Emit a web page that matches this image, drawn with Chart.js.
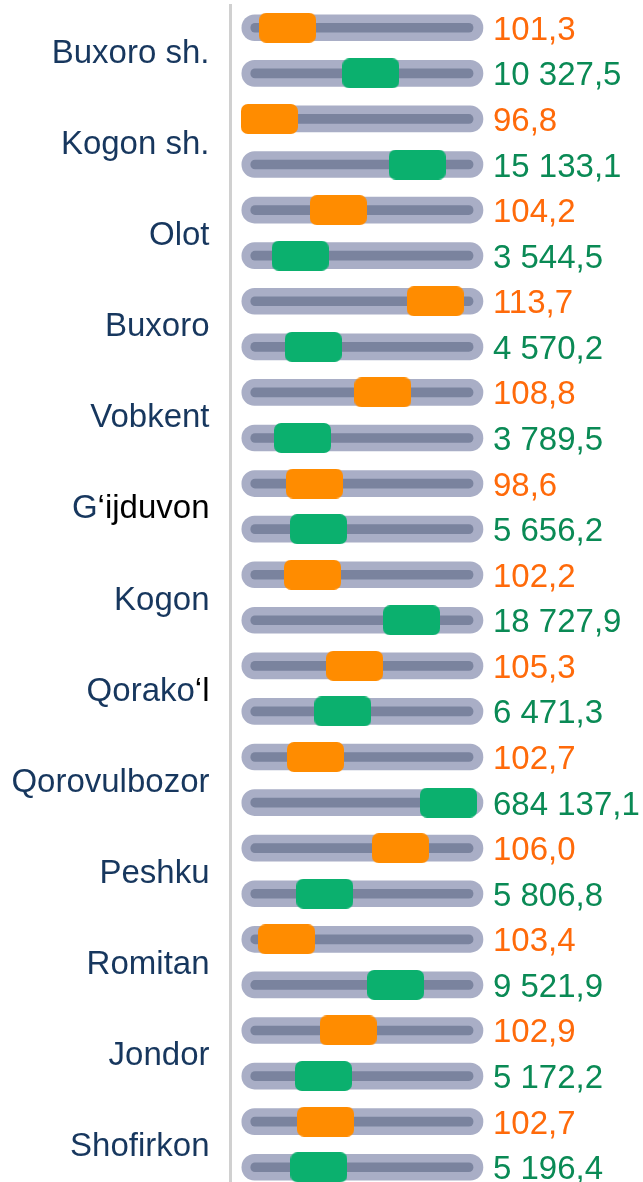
<!DOCTYPE html>
<html>
<head>
<meta charset="utf-8">
<script src="https://cdn.jsdelivr.net/npm/chart.js@4"></script>
<style>
  html, body { margin: 0; padding: 0; background: #fff; overflow: hidden; }
  #wrap { width: 643px; height: 1195px; position: relative; }
</style>
</head>
<body>
<div id="wrap"><canvas id="myChart"></canvas></div>
<script>
// districts, top to bottom
var categories = ['Buxoro sh.', 'Kogon sh.', 'Olot', 'Buxoro', 'Vobkent', 'G‘ijduvon', 'Kogon',
    'Qorako‘l', 'Qorovulbozor', 'Peshku', 'Romitan', 'Jondor', 'Shofirkon'];

// growth rate, % (orange rows)
var growthLabels = ['101,3', '96,8', '104,2', '113,7', '108,8', '98,6', '102,2',
    '105,3', '102,7', '106,0', '103,4', '102,9', '102,7'];
// volume (green rows)
var volumeLabels = ['10 327,5', '15 133,1', '3 544,5', '4 570,2', '3 789,5', '5 656,2', '18 727,9',
    '6 471,3', '684 137,1', '5 806,8', '9 521,9', '5 172,2', '5 196,4'];

// slider position of each marker along its track (0 = left end, 100 = right end)
var growthPos = [19.0, 11.4, 40.0, 80.2, 58.5, 30.1, 29.3, 46.8, 30.5, 65.7, 18.6, 44.1, 34.7];
var volumePos = [53.5, 72.7, 24.2, 29.6, 25.2, 31.8, 70.4, 41.9, 85.7, 34.4, 63.8, 33.8, 32.0];

var navy = '#17375E';
var orangeText = '#FF6A0A';
var greenText = '#0A8A55';
var font = '33px "Liberation Sans", Arial, sans-serif';

var rows = [];
categories.forEach(function(c) { rows.push(c + ' %'); rows.push(c + ' hajm'); });

function marker(color) {
    var c = document.createElement('canvas');
    c.width = 57; c.height = 30;
    var g = c.getContext('2d');
    g.fillStyle = color;
    g.beginPath();
    g.roundRect(0, 0, 57, 30, 7);
    g.fill();
    return c;
}

var growthPoints = categories.map(function(c, i) { return { x: growthPos[i], y: rows[2 * i] }; });
var volumePoints = categories.map(function(c, i) { return { x: volumePos[i], y: rows[2 * i + 1] }; });

var valueLabels = {
    id: 'valueLabels',
    afterDatasetsDraw: function(chart) {
        var ctx = chart.ctx;
        var xs = chart.scales.x, ys = chart.scales.y, yl = chart.scales.yl;
        ctx.save();
        ctx.font = font;
        ctx.textBaseline = 'alphabetic';
        var tx = xs.getPixelForValue(100) + 10;
        categories.forEach(function(c, i) {
            ctx.textAlign = 'left';
            ctx.fillStyle = orangeText;
            ctx.fillText(growthLabels[i], tx, ys.getPixelForValue(2 * i) + 12);
            ctx.fillStyle = greenText;
            ctx.fillText(volumeLabels[i], tx, ys.getPixelForValue(2 * i + 1) + 12);

            // category name, part after ‘ is black in the original
            var y = yl.getPixelForValue(i) + 12;
            var right = chart.chartArea.left - 21;
            var k = c.indexOf('‘');
            ctx.textAlign = 'right';
            if (k < 0) {
                ctx.fillStyle = navy;
                ctx.fillText(c, right, y);
            } else {
                var tail = c.slice(k);
                ctx.fillStyle = '#000';
                ctx.fillText(tail, right, y);
                ctx.fillStyle = navy;
                ctx.fillText(c.slice(0, k), right - ctx.measureText(tail).width, y);
            }
        });
        ctx.restore();
    }
};

var ctx = document.getElementById('myChart').getContext('2d');
var myChart = new Chart(ctx, {
    type: 'bar',
    data: {
        labels: rows,
        datasets: [{
            type: 'line',
            data: growthPoints,
            showLine: false,
            pointStyle: marker('#FF8C00'),
            order: 0
        }, {
            type: 'line',
            data: volumePoints,
            showLine: false,
            pointStyle: marker('#0BB06E'),
            order: 0
        }, {
            data: rows.map(function() { return [3.7, 95.9]; }),
            backgroundColor: '#7A839E',
            barThickness: 9,
            borderRadius: 5,
            borderSkipped: false,
            grouped: false,
            order: 1
        }, {
            data: rows.map(function() { return [0, 100]; }),
            backgroundColor: '#A9AEC6',
            barThickness: 26,
            borderRadius: 13,
            borderSkipped: false,
            grouped: false,
            order: 2
        }]
    },
    options: {
        indexAxis: 'y',
        responsive: true,
        maintainAspectRatio: false,
        animation: false,
        layout: { padding: { top: 3, bottom: 0, left: 0, right: 0 } },
        plugins: { legend: { display: false }, tooltip: { enabled: false } },
        scales: {
            x: { type: 'linear', min: -4.7, max: 164.3, display: false },
            y: { type: 'category', display: false },
            yl: {
                type: 'category',
                labels: categories,
                position: 'left',
                offset: true,
                grid: { display: false, drawTicks: false },
                border: { display: true, color: '#D0D0D0', width: 3 },
                ticks: { display: false },
                afterFit: function(scale) { scale.width = 230.5; scale.paddingTop = 0; scale.paddingBottom = 0; }
            }
        }
    },
    plugins: [valueLabels]
});
</script>
</body>
</html>
